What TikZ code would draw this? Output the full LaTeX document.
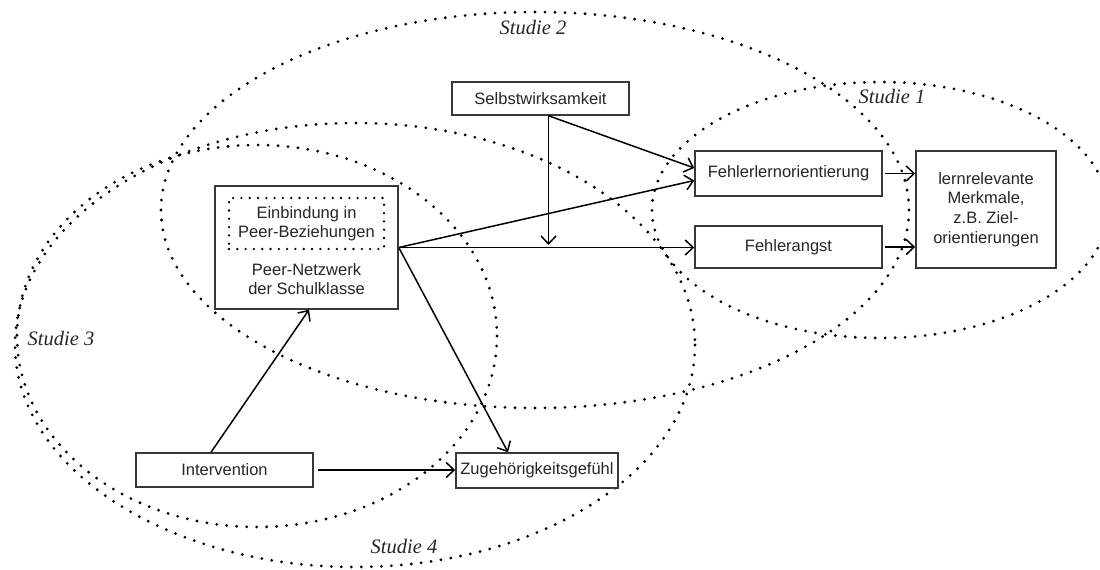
\documentclass[tikz,border=0pt]{standalone}
\usepackage{fontspec}
\setmainfont{Liberation Sans}
\newfontfamily\studfont{Liberation Serif}
\usetikzlibrary{arrows.meta}
\begin{document}
\begin{tikzpicture}[x=1pt,y=-1pt,
  box/.style={draw=black!78, fill=white, line width=1.5pt, inner sep=0pt, text=black!85,
    font=\fontsize{16.5}{19.6}\selectfont, align=center},
  txt/.style={inner sep=0pt, text=black!85, font=\fontsize{16.5}{19.4}\selectfont, align=center},
  dotbox/.style={draw=black, line width=2.6pt, dash pattern=on 0pt off 8.3pt, line cap=round,
    inner sep=0pt, text=black!85, font=\fontsize{16.5}{19.4}\selectfont, align=center},
  arr/.style={line width=1.5pt, -{Straight Barb[length=8pt,width=15pt]}},
  studie/.style={line width=3.1pt, dash pattern=on 0pt off 10pt, line cap=round},
  lab/.style={font=\studfont\itshape\fontsize{20.5}{24}\selectfont, text=black!85, inner sep=0pt}
]
\useasboundingbox (0,0) rectangle (1100,570);

% study ellipses
\draw[studie] (880,210) ellipse [x radius=228, y radius=128];
\draw[studie] (535,210) ellipse [x radius=374, y radius=198];
\draw[studie] (257,336) ellipse [x radius=240, y radius=191];
\draw[studie] (355,345) ellipse [x radius=340, y radius=222];

\node[lab] (s1) at (892,97) {Studie 1};
\node[lab] (s2) at (533,28) {Studie 2};
\node[lab] (s3) at (61,339) {Studie 3};
\node[lab] (s4) at (404,547) {Studie 4};

% boxes
\node[box, minimum width=177pt, minimum height=33pt] (sw) at (540.5,98.5) {Selbstwirksamkeit};
\node[box, minimum width=187pt, minimum height=45pt] (flo) at (788.5,173.5) {Fehlerlernorientierung};
\node[box, minimum width=187pt, minimum height=42pt] (fa) at (788.5,247) {Fehlerangst};
\node[box, minimum width=140pt, minimum height=117pt] (lr) at (986,209.5) {lernrelevante\\Merkmale,\\z.B. Ziel-\\orientierungen};
\node[box, minimum width=183pt, minimum height=123pt] (peer) at (306.5,247.5) {};
\node[dotbox, minimum width=155pt, minimum height=51pt] (einb) at (306.5,223.5) {Einbindung in\\Peer-Beziehungen};
\node[txt] (netz) at (306.5,279) {Peer-Netzwerk\\der Schulklasse};
\node[box, minimum width=177pt, minimum height=34pt] (int) at (224.5,470) {Intervention};
\node[box, minimum width=162pt, minimum height=35pt] (zug) at (537,470.5) {Zugeh\"origkeitsgef\"uhl};

% connectors
\coordinate (swo) at ([xshift=8pt]sw.south);
\coordinate (mod) at (swo |- peer.east);
\draw[arr] (swo) -- ([yshift=5.5pt]flo.west);
\draw[arr, shorten >=2.5pt] (swo) -- (mod);
\draw[arr] (peer.east) -- (peer.east -| fa.west);
\draw[arr] (peer.east) -- ([yshift=-7pt]flo.west);
\draw[arr] (peer.east) -- ([xshift=-29pt]zug.north);
\draw[arr] ([xshift=-13.5pt]int.north) -- ([xshift=2.5pt]peer.south);
\draw[arr, shorten <=4pt] (int.east) -- (int.east -| zug.west);
\draw[arr, shorten <=2pt] (flo.east) -- (flo.east -| lr.west);
\draw[arr, shorten <=2pt] (fa.east) -- (fa.east -| lr.west);
\end{tikzpicture}
\end{document}
